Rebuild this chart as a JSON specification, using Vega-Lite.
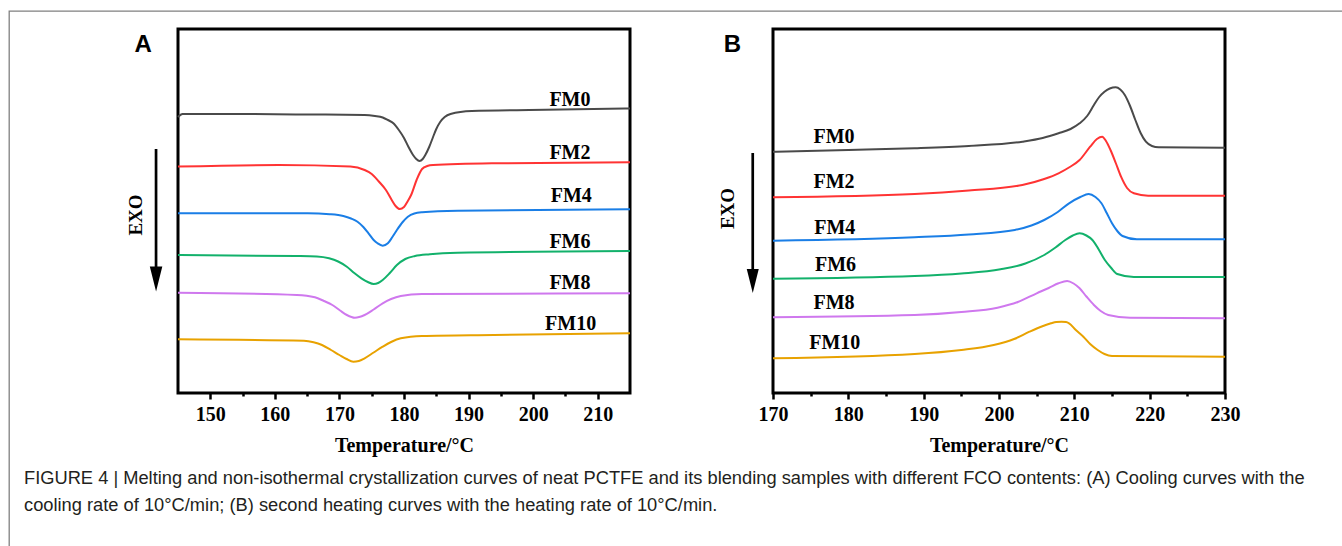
{
  "$schema": "https://vega.github.io/schema/vega-lite/v6.json",
  "width": 1334,
  "height": 536,
  "autosize": "none",
  "padding": {"left": 9, "top": 11, "right": -1, "bottom": -1},
  "background": "white",
  "config": {"view": {"stroke": "#808080", "strokeWidth": 1.3}},
  "title": {
    "text": [
      "FIGURE 4 | Melting and non-isothermal crystallization curves of neat PCTFE and its blending samples with different FCO contents: (A) Cooling curves with the",
      "cooling rate of 10°C/min; (B) second heating curves with the heating rate of 10°C/min."
    ],
    "orient": "bottom", "anchor": "start", "frame": "group", "offset": -77, "dx": 15,
    "font": "Liberation Sans", "fontSize": 18.3, "fontWeight": "normal", "color": "#231f20", "lineHeight": 27
  },
  "datasets": {
    "frameA": [{"t0": 145, "t1": 215, "v0": 0, "v1": 364}],
    "frameB": [{"t0": 170, "t1": 230, "v0": 0, "v1": 364}],
    "curvesA": [
      {"sample": "FM0", "T": 145.0, "v": 276}, {"sample": "FM0", "T": 145.7, "v": 279}, {"sample": "FM0", "T": 155.1, "v": 279}, {"sample": "FM0", "T": 165, "v": 278.5}, {"sample": "FM0", "T": 173.9, "v": 278}, {"sample": "FM0", "T": 175.5, "v": 277}, {"sample": "FM0", "T": 176.7, "v": 275.5}, {"sample": "FM0", "T": 177.5, "v": 273}, {"sample": "FM0", "T": 178.4, "v": 269.5}, {"sample": "FM0", "T": 179.2, "v": 263}, {"sample": "FM0", "T": 180.0, "v": 255}, {"sample": "FM0", "T": 180.7, "v": 246}, {"sample": "FM0", "T": 181.4, "v": 238}, {"sample": "FM0", "T": 181.9, "v": 234}, {"sample": "FM0", "T": 182.4, "v": 232}, {"sample": "FM0", "T": 182.9, "v": 234}, {"sample": "FM0", "T": 183.3, "v": 238}, {"sample": "FM0", "T": 183.9, "v": 246}, {"sample": "FM0", "T": 184.5, "v": 256}, {"sample": "FM0", "T": 185.0, "v": 264}, {"sample": "FM0", "T": 185.6, "v": 271}, {"sample": "FM0", "T": 186.3, "v": 276}, {"sample": "FM0", "T": 187.2, "v": 279}, {"sample": "FM0", "T": 190.5, "v": 282}, {"sample": "FM0", "T": 199.4, "v": 283}, {"sample": "FM0", "T": 215, "v": 284.5},
      {"sample": "FM2", "T": 145.0, "v": 226.5}, {"sample": "FM2", "T": 160.6, "v": 228}, {"sample": "FM2", "T": 171.7, "v": 226.5}, {"sample": "FM2", "T": 173.9, "v": 223}, {"sample": "FM2", "T": 175.0, "v": 219}, {"sample": "FM2", "T": 176.1, "v": 211.5}, {"sample": "FM2", "T": 177.2, "v": 203}, {"sample": "FM2", "T": 178.1, "v": 193}, {"sample": "FM2", "T": 178.7, "v": 187}, {"sample": "FM2", "T": 179.35, "v": 184}, {"sample": "FM2", "T": 180.0, "v": 186}, {"sample": "FM2", "T": 180.6, "v": 192}, {"sample": "FM2", "T": 181.1, "v": 198}, {"sample": "FM2", "T": 181.95, "v": 213}, {"sample": "FM2", "T": 182.8, "v": 224}, {"sample": "FM2", "T": 183.6, "v": 227}, {"sample": "FM2", "T": 184.5, "v": 228}, {"sample": "FM2", "T": 193.9, "v": 229.7}, {"sample": "FM2", "T": 215, "v": 230.7},
      {"sample": "FM4", "T": 145.0, "v": 179.7}, {"sample": "FM4", "T": 165.1, "v": 179.7}, {"sample": "FM4", "T": 168.5, "v": 178.8}, {"sample": "FM4", "T": 170.6, "v": 177}, {"sample": "FM4", "T": 171.8, "v": 174.5}, {"sample": "FM4", "T": 172.8, "v": 171.3}, {"sample": "FM4", "T": 173.7, "v": 166}, {"sample": "FM4", "T": 174.5, "v": 159.7}, {"sample": "FM4", "T": 175.3, "v": 153}, {"sample": "FM4", "T": 175.9, "v": 149.7}, {"sample": "FM4", "T": 176.7, "v": 147.3}, {"sample": "FM4", "T": 177.5, "v": 149.7}, {"sample": "FM4", "T": 178.2, "v": 156}, {"sample": "FM4", "T": 178.9, "v": 163}, {"sample": "FM4", "T": 179.8, "v": 171}, {"sample": "FM4", "T": 180.6, "v": 176.3}, {"sample": "FM4", "T": 181.6, "v": 179.5}, {"sample": "FM4", "T": 182.8, "v": 180.7}, {"sample": "FM4", "T": 188.3, "v": 182.3}, {"sample": "FM4", "T": 215, "v": 183.7},
      {"sample": "FM6", "T": 145.0, "v": 138}, {"sample": "FM6", "T": 163.4, "v": 137}, {"sample": "FM6", "T": 166.5, "v": 136.5}, {"sample": "FM6", "T": 168.4, "v": 134.7}, {"sample": "FM6", "T": 169.8, "v": 131.5}, {"sample": "FM6", "T": 171.15, "v": 126.3}, {"sample": "FM6", "T": 172.3, "v": 120}, {"sample": "FM6", "T": 173.4, "v": 114.7}, {"sample": "FM6", "T": 174.4, "v": 111}, {"sample": "FM6", "T": 175.3, "v": 109}, {"sample": "FM6", "T": 176.0, "v": 110}, {"sample": "FM6", "T": 176.7, "v": 113}, {"sample": "FM6", "T": 177.8, "v": 120}, {"sample": "FM6", "T": 178.9, "v": 128}, {"sample": "FM6", "T": 180.2, "v": 134}, {"sample": "FM6", "T": 181.7, "v": 137}, {"sample": "FM6", "T": 184, "v": 138.8}, {"sample": "FM6", "T": 188.3, "v": 140.3}, {"sample": "FM6", "T": 215, "v": 142},
      {"sample": "FM8", "T": 145.0, "v": 100.3}, {"sample": "FM8", "T": 163.4, "v": 98}, {"sample": "FM8", "T": 166.2, "v": 95.7}, {"sample": "FM8", "T": 167.6, "v": 92}, {"sample": "FM8", "T": 168.9, "v": 88}, {"sample": "FM8", "T": 170.1, "v": 82.5}, {"sample": "FM8", "T": 171.15, "v": 78}, {"sample": "FM8", "T": 172.4, "v": 75.3}, {"sample": "FM8", "T": 173.9, "v": 78}, {"sample": "FM8", "T": 175.3, "v": 83.5}, {"sample": "FM8", "T": 176.7, "v": 89.7}, {"sample": "FM8", "T": 178.0, "v": 94}, {"sample": "FM8", "T": 179.5, "v": 97}, {"sample": "FM8", "T": 182.8, "v": 99}, {"sample": "FM8", "T": 215, "v": 99.7},
      {"sample": "FM10", "T": 145.0, "v": 53.7}, {"sample": "FM10", "T": 164.5, "v": 52.3}, {"sample": "FM10", "T": 166.0, "v": 50.8}, {"sample": "FM10", "T": 167.3, "v": 48}, {"sample": "FM10", "T": 168.7, "v": 43}, {"sample": "FM10", "T": 170.0, "v": 38}, {"sample": "FM10", "T": 171.1, "v": 34}, {"sample": "FM10", "T": 172.15, "v": 31.3}, {"sample": "FM10", "T": 173.0, "v": 32}, {"sample": "FM10", "T": 173.9, "v": 34.7}, {"sample": "FM10", "T": 175.3, "v": 40.5}, {"sample": "FM10", "T": 176.7, "v": 46.3}, {"sample": "FM10", "T": 178.0, "v": 51}, {"sample": "FM10", "T": 179.5, "v": 54.7}, {"sample": "FM10", "T": 182.8, "v": 57}, {"sample": "FM10", "T": 193.9, "v": 58}, {"sample": "FM10", "T": 215, "v": 59.7}
    ],
    "curvesB": [
      {"sample": "FM0", "T": 170, "v": 241.3}, {"sample": "FM0", "T": 180, "v": 243}, {"sample": "FM0", "T": 188.8, "v": 244.7}, {"sample": "FM0", "T": 196, "v": 247}, {"sample": "FM0", "T": 203.1, "v": 251.3}, {"sample": "FM0", "T": 205.8, "v": 255}, {"sample": "FM0", "T": 207.9, "v": 259.7}, {"sample": "FM0", "T": 209.5, "v": 264}, {"sample": "FM0", "T": 210.7, "v": 269.7}, {"sample": "FM0", "T": 211.7, "v": 277}, {"sample": "FM0", "T": 212.6, "v": 288}, {"sample": "FM0", "T": 213.3, "v": 296}, {"sample": "FM0", "T": 214.0, "v": 301.3}, {"sample": "FM0", "T": 214.7, "v": 304.5}, {"sample": "FM0", "T": 215.5, "v": 305.7}, {"sample": "FM0", "T": 216.1, "v": 303.5}, {"sample": "FM0", "T": 216.7, "v": 298}, {"sample": "FM0", "T": 217.4, "v": 287}, {"sample": "FM0", "T": 218.1, "v": 273}, {"sample": "FM0", "T": 218.8, "v": 260}, {"sample": "FM0", "T": 219.5, "v": 251.3}, {"sample": "FM0", "T": 220.3, "v": 247}, {"sample": "FM0", "T": 221.2, "v": 245.7}, {"sample": "FM0", "T": 230, "v": 245.3},
      {"sample": "FM2", "T": 170, "v": 195.7}, {"sample": "FM2", "T": 188.8, "v": 199}, {"sample": "FM2", "T": 196, "v": 202.5}, {"sample": "FM2", "T": 203.1, "v": 208}, {"sample": "FM2", "T": 206, "v": 214}, {"sample": "FM2", "T": 207.9, "v": 219.7}, {"sample": "FM2", "T": 209.4, "v": 226}, {"sample": "FM2", "T": 210.7, "v": 233}, {"sample": "FM2", "T": 212.1, "v": 246.3}, {"sample": "FM2", "T": 213.0, "v": 254}, {"sample": "FM2", "T": 213.7, "v": 256.3}, {"sample": "FM2", "T": 214.2, "v": 252}, {"sample": "FM2", "T": 214.8, "v": 243}, {"sample": "FM2", "T": 215.5, "v": 230}, {"sample": "FM2", "T": 216.2, "v": 216.3}, {"sample": "FM2", "T": 217.0, "v": 205}, {"sample": "FM2", "T": 217.9, "v": 199.7}, {"sample": "FM2", "T": 219.8, "v": 197.3}, {"sample": "FM2", "T": 230, "v": 197.3},
      {"sample": "FM4", "T": 170, "v": 152.3}, {"sample": "FM4", "T": 188.8, "v": 155.7}, {"sample": "FM4", "T": 196, "v": 158.5}, {"sample": "FM4", "T": 202.1, "v": 163}, {"sample": "FM4", "T": 204.3, "v": 167.5}, {"sample": "FM4", "T": 206.0, "v": 173}, {"sample": "FM4", "T": 207.8, "v": 181}, {"sample": "FM4", "T": 209.3, "v": 189.7}, {"sample": "FM4", "T": 210.8, "v": 196}, {"sample": "FM4", "T": 211.9, "v": 199}, {"sample": "FM4", "T": 212.8, "v": 196}, {"sample": "FM4", "T": 213.6, "v": 189.7}, {"sample": "FM4", "T": 214.3, "v": 180}, {"sample": "FM4", "T": 215.0, "v": 169.7}, {"sample": "FM4", "T": 215.7, "v": 162}, {"sample": "FM4", "T": 216.4, "v": 157}, {"sample": "FM4", "T": 218.3, "v": 153.7}, {"sample": "FM4", "T": 230, "v": 153.7},
      {"sample": "FM6", "T": 170, "v": 114.3}, {"sample": "FM6", "T": 188.8, "v": 117}, {"sample": "FM6", "T": 195, "v": 119.5}, {"sample": "FM6", "T": 200.2, "v": 123.7}, {"sample": "FM6", "T": 203.5, "v": 129.5}, {"sample": "FM6", "T": 206.0, "v": 138}, {"sample": "FM6", "T": 207.5, "v": 145.5}, {"sample": "FM6", "T": 208.8, "v": 153}, {"sample": "FM6", "T": 209.8, "v": 157.5}, {"sample": "FM6", "T": 210.7, "v": 159.7}, {"sample": "FM6", "T": 211.6, "v": 157.5}, {"sample": "FM6", "T": 212.4, "v": 153}, {"sample": "FM6", "T": 213.2, "v": 144}, {"sample": "FM6", "T": 214.05, "v": 133}, {"sample": "FM6", "T": 214.9, "v": 125}, {"sample": "FM6", "T": 215.7, "v": 119}, {"sample": "FM6", "T": 217.9, "v": 116}, {"sample": "FM6", "T": 230, "v": 116},
      {"sample": "FM8", "T": 170, "v": 75.7}, {"sample": "FM8", "T": 188.8, "v": 78}, {"sample": "FM8", "T": 195, "v": 81}, {"sample": "FM8", "T": 199.8, "v": 85.3}, {"sample": "FM8", "T": 202.5, "v": 91}, {"sample": "FM8", "T": 205.0, "v": 99.7}, {"sample": "FM8", "T": 206.6, "v": 105}, {"sample": "FM8", "T": 207.9, "v": 109.7}, {"sample": "FM8", "T": 209.05, "v": 112}, {"sample": "FM8", "T": 209.9, "v": 109.5}, {"sample": "FM8", "T": 210.7, "v": 104.7}, {"sample": "FM8", "T": 211.6, "v": 96.5}, {"sample": "FM8", "T": 212.6, "v": 88}, {"sample": "FM8", "T": 213.5, "v": 82}, {"sample": "FM8", "T": 214.5, "v": 78}, {"sample": "FM8", "T": 217.4, "v": 75.3}, {"sample": "FM8", "T": 230, "v": 74.7},
      {"sample": "FM10", "T": 170, "v": 34.7}, {"sample": "FM10", "T": 188.8, "v": 39}, {"sample": "FM10", "T": 195, "v": 43}, {"sample": "FM10", "T": 199.3, "v": 48}, {"sample": "FM10", "T": 202, "v": 54}, {"sample": "FM10", "T": 204.05, "v": 61.3}, {"sample": "FM10", "T": 205.5, "v": 66}, {"sample": "FM10", "T": 206.9, "v": 69.7}, {"sample": "FM10", "T": 207.6, "v": 71}, {"sample": "FM10", "T": 208.3, "v": 71.3}, {"sample": "FM10", "T": 208.9, "v": 71}, {"sample": "FM10", "T": 209.3, "v": 69.7}, {"sample": "FM10", "T": 210.2, "v": 63}, {"sample": "FM10", "T": 211.2, "v": 56.3}, {"sample": "FM10", "T": 212.1, "v": 49}, {"sample": "FM10", "T": 213.1, "v": 43}, {"sample": "FM10", "T": 214.0, "v": 39}, {"sample": "FM10", "T": 215.0, "v": 37}, {"sample": "FM10", "T": 230, "v": 36.3}
    ],
    "labelsA": [
      {"sample": "FM0", "T": 205.7, "v": 293}, {"sample": "FM2", "T": 205.7, "v": 240}, {"sample": "FM4", "T": 205.9, "v": 197},
      {"sample": "FM6", "T": 205.7, "v": 151}, {"sample": "FM8", "T": 205.7, "v": 110}, {"sample": "FM10", "T": 205.8, "v": 69}
    ],
    "labelsB": [
      {"sample": "FM0", "T": 178.1, "v": 256}, {"sample": "FM2", "T": 178.1, "v": 211}, {"sample": "FM4", "T": 178.2, "v": 165},
      {"sample": "FM6", "T": 178.3, "v": 128}, {"sample": "FM8", "T": 178.1, "v": 90}, {"sample": "FM10", "T": 178.2, "v": 50}
    ],
    "arrowA": [{"T": 141.6, "top": 244, "bottom": 124, "head": 114, "label": "EXO", "tx": 138.5, "tv": 178, "panel": "A", "px": 139.6, "pv": 348}],
    "arrowB": [{"T": 167.31, "top": 240, "bottom": 121, "head": 112, "label": "EXO", "tx": 164.08, "tv": 184.5, "panel": "B", "px": 164.6, "pv": 348}]
  },
  "layer": [
    {
      "resolve": {"axis": {"x": "independent"}},
      "layer": [
        {
          "data": {"name": "frameA"},
          "mark": {"type": "rect", "fillOpacity": 0, "stroke": "black", "strokeWidth": 3},
          "encoding": {
            "x": {"field": "t0", "type": "quantitative", "scale": {"domain": [145, 215], "range": [169, 621], "nice": false, "zero": false},
              "axis": {"orient": "bottom", "offset": -154, "values": [155, 165, 175, 185, 195, 205], "tickSize": 3, "tickWidth": 2.5, "tickColor": "black",
                "domain": false, "grid": false, "labels": false, "title": null}},
            "x2": {"field": "t1"},
            "y": {"field": "v0", "type": "quantitative", "scale": {"domain": [0, 364], "range": [382, 18], "nice": false, "zero": false}, "axis": null},
            "y2": {"field": "v1"}
          }
        },
        {
          "data": {"name": "curvesA"},
          "mark": {"type": "line", "strokeWidth": 2, "interpolate": "monotone"},
          "encoding": {
            "x": {"field": "T", "type": "quantitative", "scale": {"domain": [145, 215], "range": [169, 621], "nice": false, "zero": false},
              "axis": {"orient": "bottom", "offset": -154, "values": [150, 160, 170, 180, 190, 200, 210],
                "tickSize": 6, "tickWidth": 2.5, "tickColor": "black", "domain": false, "grid": false,
                "labelFont": "Liberation Serif", "labelFontWeight": "bold", "labelFontSize": 20, "labelColor": "black", "labelPadding": 5,
                "labelOverlap": false, "labelFlush": false,
                "title": "Temperature/°C", "titleFont": "Liberation Serif", "titleFontWeight": "bold", "titleFontSize": 20, "titleColor": "black", "titlePadding": 11}},
            "y": {"field": "v", "type": "quantitative", "scale": {"domain": [0, 364], "range": [382, 18], "nice": false, "zero": false}, "axis": null},
            "color": {"field": "sample", "type": "nominal", "scale": {"domain": ["FM0", "FM2", "FM4", "FM6", "FM8", "FM10"], "range": ["#4a4a4a", "#ff3333", "#1a7ee6", "#12b16b", "#cf78ee", "#e8a200"]}, "legend": null}
          }
        },
        {
          "data": {"name": "labelsA"},
          "mark": {"type": "text", "font": "Liberation Serif", "fontWeight": "bold", "fontSize": 20, "color": "black", "align": "center", "baseline": "middle"},
          "encoding": {
            "x": {"field": "T", "type": "quantitative", "scale": {"domain": [145, 215], "range": [169, 621], "nice": false, "zero": false}, "axis": null},
            "y": {"field": "v", "type": "quantitative", "scale": {"domain": [0, 364], "range": [382, 18], "nice": false, "zero": false}, "axis": null},
            "text": {"field": "sample"}
          }
        },
        {
          "data": {"name": "arrowA"},
          "mark": {"type": "rule", "strokeWidth": 2.7, "color": "black"},
          "encoding": {
            "x": {"field": "T", "type": "quantitative", "scale": {"domain": [145, 215], "range": [169, 621], "nice": false, "zero": false}, "axis": null},
            "y": {"field": "top", "type": "quantitative", "scale": {"domain": [0, 364], "range": [382, 18], "nice": false, "zero": false}, "axis": null},
            "y2": {"field": "bottom"}
          }
        },
        {
          "data": {"name": "arrowA"},
          "mark": {"type": "point", "shape": "M-0.5,-1L0.5,-1L0,1Z", "filled": true, "color": "black", "opacity": 1, "size": 625, "strokeWidth": 0},
          "encoding": {
            "x": {"field": "T", "type": "quantitative", "scale": {"domain": [145, 215], "range": [169, 621], "nice": false, "zero": false}, "axis": null},
            "y": {"field": "head", "type": "quantitative", "scale": {"domain": [0, 364], "range": [382, 18], "nice": false, "zero": false}, "axis": null}
          }
        },
        {
          "data": {"name": "arrowA"},
          "mark": {"type": "text", "font": "Liberation Serif", "fontWeight": "bold", "fontSize": 19, "color": "black", "angle": 270, "align": "center", "baseline": "middle"},
          "encoding": {
            "x": {"field": "tx", "type": "quantitative", "scale": {"domain": [145, 215], "range": [169, 621], "nice": false, "zero": false}, "axis": null},
            "y": {"field": "tv", "type": "quantitative", "scale": {"domain": [0, 364], "range": [382, 18], "nice": false, "zero": false}, "axis": null},
            "text": {"field": "label"}
          }
        },
        {
          "data": {"name": "arrowA"},
          "mark": {"type": "text", "font": "Liberation Sans", "fontWeight": "bold", "fontSize": 24, "color": "black", "align": "center", "baseline": "middle"},
          "encoding": {
            "x": {"field": "px", "type": "quantitative", "scale": {"domain": [145, 215], "range": [169, 621], "nice": false, "zero": false}, "axis": null},
            "y": {"field": "pv", "type": "quantitative", "scale": {"domain": [0, 364], "range": [382, 18], "nice": false, "zero": false}, "axis": null},
            "text": {"field": "panel"}
          }
        }
      ]
    },
    {
      "resolve": {"axis": {"x": "independent"}},
      "layer": [
        {
          "data": {"name": "frameB"},
          "mark": {"type": "rect", "fillOpacity": 0, "stroke": "black", "strokeWidth": 3},
          "encoding": {
            "x": {"field": "t0", "type": "quantitative", "scale": {"domain": [170, 230], "range": [764, 1216], "nice": false, "zero": false},
              "axis": {"orient": "bottom", "offset": -154, "values": [175, 185, 195, 205, 215, 225], "tickSize": 3, "tickWidth": 2.5, "tickColor": "black",
                "domain": false, "grid": false, "labels": false, "title": null}},
            "x2": {"field": "t1"},
            "y": {"field": "v0", "type": "quantitative", "scale": {"domain": [0, 364], "range": [382, 18], "nice": false, "zero": false}, "axis": null},
            "y2": {"field": "v1"}
          }
        },
        {
          "data": {"name": "curvesB"},
          "mark": {"type": "line", "strokeWidth": 2, "interpolate": "monotone"},
          "encoding": {
            "x": {"field": "T", "type": "quantitative", "scale": {"domain": [170, 230], "range": [764, 1216], "nice": false, "zero": false},
              "axis": {"orient": "bottom", "offset": -154, "values": [170, 180, 190, 200, 210, 220, 230],
                "tickSize": 6, "tickWidth": 2.5, "tickColor": "black", "domain": false, "grid": false,
                "labelFont": "Liberation Serif", "labelFontWeight": "bold", "labelFontSize": 20, "labelColor": "black", "labelPadding": 5,
                "labelOverlap": false, "labelFlush": false,
                "title": "Temperature/°C", "titleFont": "Liberation Serif", "titleFontWeight": "bold", "titleFontSize": 20, "titleColor": "black", "titlePadding": 11}},
            "y": {"field": "v", "type": "quantitative", "scale": {"domain": [0, 364], "range": [382, 18], "nice": false, "zero": false}, "axis": null},
            "color": {"field": "sample", "type": "nominal", "scale": {"domain": ["FM0", "FM2", "FM4", "FM6", "FM8", "FM10"], "range": ["#4a4a4a", "#ff3333", "#1a7ee6", "#12b16b", "#cf78ee", "#e8a200"]}, "legend": null}
          }
        },
        {
          "data": {"name": "labelsB"},
          "mark": {"type": "text", "font": "Liberation Serif", "fontWeight": "bold", "fontSize": 20, "color": "black", "align": "center", "baseline": "middle"},
          "encoding": {
            "x": {"field": "T", "type": "quantitative", "scale": {"domain": [170, 230], "range": [764, 1216], "nice": false, "zero": false}, "axis": null},
            "y": {"field": "v", "type": "quantitative", "scale": {"domain": [0, 364], "range": [382, 18], "nice": false, "zero": false}, "axis": null},
            "text": {"field": "sample"}
          }
        },
        {
          "data": {"name": "arrowB"},
          "mark": {"type": "rule", "strokeWidth": 2.7, "color": "black"},
          "encoding": {
            "x": {"field": "T", "type": "quantitative", "scale": {"domain": [170, 230], "range": [764, 1216], "nice": false, "zero": false}, "axis": null},
            "y": {"field": "top", "type": "quantitative", "scale": {"domain": [0, 364], "range": [382, 18], "nice": false, "zero": false}, "axis": null},
            "y2": {"field": "bottom"}
          }
        },
        {
          "data": {"name": "arrowB"},
          "mark": {"type": "point", "shape": "M-0.5,-1L0.5,-1L0,1Z", "filled": true, "color": "black", "opacity": 1, "size": 576, "strokeWidth": 0},
          "encoding": {
            "x": {"field": "T", "type": "quantitative", "scale": {"domain": [170, 230], "range": [764, 1216], "nice": false, "zero": false}, "axis": null},
            "y": {"field": "head", "type": "quantitative", "scale": {"domain": [0, 364], "range": [382, 18], "nice": false, "zero": false}, "axis": null}
          }
        },
        {
          "data": {"name": "arrowB"},
          "mark": {"type": "text", "font": "Liberation Serif", "fontWeight": "bold", "fontSize": 19, "color": "black", "angle": 270, "align": "center", "baseline": "middle"},
          "encoding": {
            "x": {"field": "tx", "type": "quantitative", "scale": {"domain": [170, 230], "range": [764, 1216], "nice": false, "zero": false}, "axis": null},
            "y": {"field": "tv", "type": "quantitative", "scale": {"domain": [0, 364], "range": [382, 18], "nice": false, "zero": false}, "axis": null},
            "text": {"field": "label"}
          }
        },
        {
          "data": {"name": "arrowB"},
          "mark": {"type": "text", "font": "Liberation Sans", "fontWeight": "bold", "fontSize": 24, "color": "black", "align": "center", "baseline": "middle"},
          "encoding": {
            "x": {"field": "px", "type": "quantitative", "scale": {"domain": [170, 230], "range": [764, 1216], "nice": false, "zero": false}, "axis": null},
            "y": {"field": "pv", "type": "quantitative", "scale": {"domain": [0, 364], "range": [382, 18], "nice": false, "zero": false}, "axis": null},
            "text": {"field": "panel"}
          }
        }
      ]
    }
  ],
  "resolve": {"scale": {"x": "independent"}, "axis": {"x": "independent"}}
}
